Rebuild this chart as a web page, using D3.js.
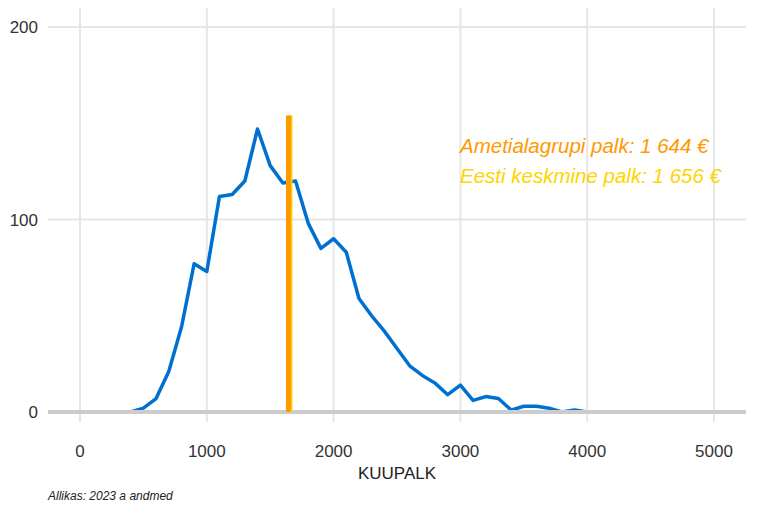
<!DOCTYPE html>
<html><head><meta charset="utf-8">
<script src="https://cdn.jsdelivr.net/npm/d3@7"></script>
<style>body{margin:0;background:#fff}</style></head>
<body><div id="chart"></div>
<script>
var salaries = [0,100,200,300,400,500,600,700,800,900,1000,1100,1200,1300,1400,1500,1600,1700,1800,1900,2000,2100,2200,2300,2400,2500,2600,2700,2800,2900,3000,3100,3200,3300,3400,3500,3600,3700,3800,3900,4000,4500,5000];
var counts = [0,0,0,0,0,2,7,21,44,77,73,112,113,120,147,128,119,120,98,85,90,83,59,50,42,33,24,19,15,9,14,6,8,7,1,3,3,2,0,1,0,0,0];
var groupPay = 1644, estoniaPay = 1656, lineTop = 154;
var xTicks = [0,1000,2000,3000,4000,5000], yTicks = [0,100,200];

var width = 768, height = 512;
var svg = d3.select('#chart').append('svg').attr('width', width).attr('height', height)
    .style('font-family', 'Liberation Sans, Arial, sans-serif');
var X = d3.scaleLinear().domain([0, 5000]).range([80, 714]);
var Y = d3.scaleLinear().domain([0, 200]).range([412, 27]);

// grid
svg.selectAll('.vg').data(xTicks).enter().append('line')
    .attr('x1', d => X(d)).attr('x2', d => X(d)).attr('y1', 8).attr('y2', 422)
    .attr('stroke', '#e6e6e6').attr('stroke-width', 2);
svg.selectAll('.hg').data(yTicks.filter(d => d > 0)).enter().append('line')
    .attr('x1', 48).attr('x2', 746).attr('y1', d => Y(d)).attr('y2', d => Y(d))
    .attr('stroke', '#e6e6e6').attr('stroke-width', 2);

svg.selectAll('.xl').data(xTicks).enter().append('text')
    .attr('x', d => X(d)).attr('y', 457).attr('text-anchor', 'middle')
    .attr('font-size', 17).attr('fill', '#333').text(d => d);
svg.selectAll('.yl').data(yTicks).enter().append('text')
    .attr('x', 38).attr('y', d => Y(d) + 6).attr('text-anchor', 'end')
    .attr('font-size', 17).attr('fill', '#333').text(d => d);

var line = d3.line().x((d, i) => X(salaries[i])).y(d => Y(d));
svg.append('path').attr('d', line(counts)).attr('fill', 'none')
    .attr('stroke', '#0070d0').attr('stroke-width', 3.5).attr('stroke-linejoin', 'round');

// baseline on top of the curve
svg.append('line').attr('x1', 48).attr('x2', 746).attr('y1', Y(0)).attr('y2', Y(0))
    .attr('stroke', '#cccccc').attr('stroke-width', 4);

svg.append('line').attr('x1', X(estoniaPay)).attr('x2', X(estoniaPay)).attr('y1', Y(0)).attr('y2', Y(lineTop))
    .attr('stroke', '#ffd400').attr('stroke-width', 5);
svg.append('line').attr('x1', X(groupPay)).attr('x2', X(groupPay)).attr('y1', Y(0)).attr('y2', Y(lineTop))
    .attr('stroke', '#ff9900').attr('stroke-width', 5);

svg.append('text').attr('x', 460).attr('y', 153).attr('font-size', 20.5).attr('font-style', 'italic')
    .attr('fill', '#ff9900').text('Ametialagrupi palk: 1 644 €');
svg.append('text').attr('x', 460).attr('y', 183).attr('font-size', 20.5).attr('font-style', 'italic')
    .attr('fill', '#ffd400').text('Eesti keskmine palk: 1 656 €');

svg.append('text').attr('x', 397).attr('y', 479).attr('text-anchor', 'middle')
    .attr('font-size', 17).attr('fill', '#222').text('KUUPALK');
svg.append('text').attr('x', 48).attr('y', 500).attr('font-size', 12).attr('font-style', 'italic')
    .attr('fill', '#222').text('Allikas: 2023 a andmed');
</script></body></html>
